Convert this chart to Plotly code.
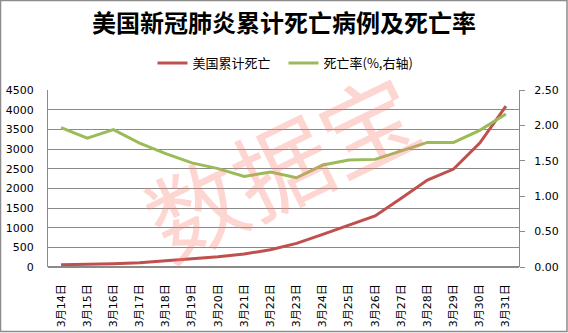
import plotly.graph_objects as go

dates = ["3月14日", "3月15日", "3月16日", "3月17日", "3月18日", "3月19日", "3月20日", "3月21日", "3月22日",
         "3月23日", "3月24日", "3月25日", "3月26日", "3月27日", "3月28日", "3月29日", "3月30日", "3月31日"]
deaths = [55, 65, 85, 108, 150, 210, 262, 330, 440, 600, 830, 1060, 1300, 1750, 2210, 2490, 3150, 4090]
rate = [1.97, 1.82, 1.94, 1.75, 1.60, 1.47, 1.39, 1.28, 1.34, 1.26, 1.44, 1.51, 1.52, 1.64, 1.76, 1.76, 1.93, 2.16]

W, H = 568, 333
ML, MR, MT, MB = 48, 49, 90, 66
PW, PH = W - ML - MR, H - MT - MB

RED = "#C0504D"
GREEN = "#9BBB59"
GRID = "#8a8a8a"
TICKFONT = dict(family="DejaVu Sans, Verdana, sans-serif", size=11, color="#000000")

fig = go.Figure()
fig.add_trace(go.Scatter(x=dates, y=deaths, name="美国累计死亡", mode="lines",
                         line=dict(color=RED, width=3), yaxis="y"))
fig.add_trace(go.Scatter(x=dates, y=rate, name="死亡率(%,右轴)", mode="lines",
                         line=dict(color=GREEN, width=3), yaxis="y2"))

fig.update_layout(
    width=W, height=H,
    margin=dict(l=ML, r=MR, t=MT, b=MB, pad=0, autoexpand=False),
    paper_bgcolor="white", plot_bgcolor="white",
    title=dict(text="<b>美国新冠肺炎累计死亡病例及死亡率</b>", x=0.5, xanchor="center",
               y=1 - 24 / H, yanchor="middle",
               font=dict(family="Noto Sans CJK SC", size=24, color="#000000")),
    showlegend=True,
    legend=dict(orientation="h", x=0.5, xanchor="center", y=1 + 27 / PH, yanchor="middle",
                font=dict(family="Noto Sans CJK SC, DejaVu Sans", size=13, color="#000000"),
                bgcolor="rgba(0,0,0,0)", itemwidth=30, entrywidth=86),
    xaxis=dict(type="category", showgrid=False, showline=False, zeroline=False, automargin=False,
               tickangle=-90, tickfont=dict(family="DejaVu Sans, Noto Sans CJK SC", size=11, color="#000000"),
               ticks="", ticklabelstandoff=14, range=[-0.5, 17.5]),
    yaxis=dict(range=[0, 4500], dtick=500, showgrid=True, gridcolor=GRID, gridwidth=1, automargin=False,
               showline=True, linecolor=GRID, linewidth=1, zeroline=True, zerolinecolor=GRID,
               ticks="", tickfont=TICKFONT, ticklabelstandoff=11),
    yaxis2=dict(range=[0, 2.5], dtick=0.5, tickformat=".2f", overlaying="y", side="right", automargin=False,
                showgrid=False, showline=True, linecolor=GRID, linewidth=1, zeroline=False,
                ticks="outside", ticklen=5, tickcolor=GRID, tickfont=TICKFONT, ticklabelstandoff=7),
)

# watermark
fig.add_annotation(text="数据宝", xref="paper", yref="paper",
                   x=(280 - ML) / PW, y=1 - (163 - MT) / PH, xanchor="center", yanchor="middle",
                   showarrow=False, textangle=-26,
                   font=dict(family="Noto Sans CJK SC", size=96, color="rgba(250,128,114,0.33)"))

# outer border
fig.add_shape(type="rect", xref="paper", yref="paper",
              x0=(0.5 - ML) / PW, x1=(W - 1.0 - ML) / PW,
              y0=-(H - 1.5 - MT - PH) / PH, y1=1 + (MT - 0.5) / PH,
              line=dict(color="#8c8c8c", width=1.5), fillcolor="rgba(0,0,0,0)", layer="above")

fig.write_html("out.html")
